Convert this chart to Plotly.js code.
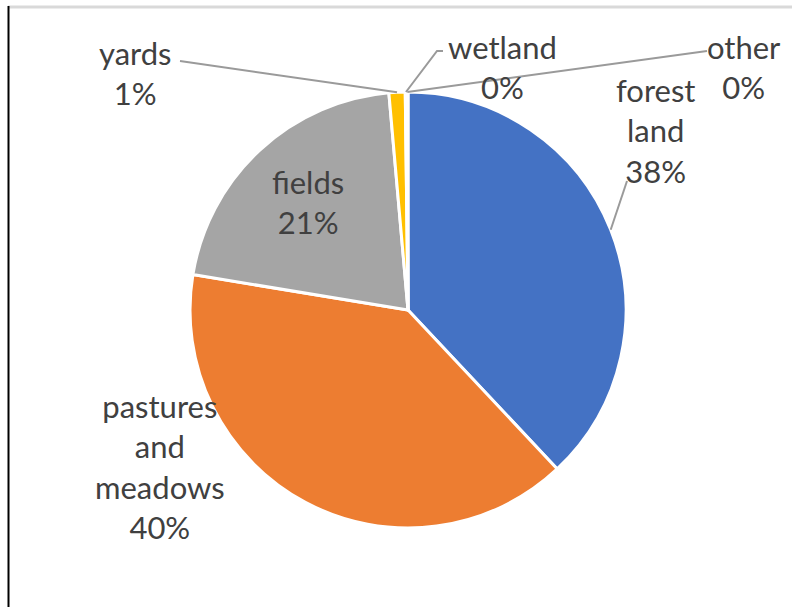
<!DOCTYPE html>
<html>
<head>
<meta charset="utf-8">
<script src="https://cdn.plot.ly/plotly-3.0.1.min.js"></script>
<style>html,body{margin:0;padding:0;background:#fff;}#chart{width:792px;height:607px;}</style>
</head>
<body>
<div id="chart"></div>
<script>
// ---- data ----
const categories = ["forest land", "pastures and meadows", "fields", "yards", "wetland", "other"];
const shares = [38.0, 39.6, 21.0, 1.2, 0.1, 0.1];
const percentLabels = ["38%", "40%", "21%", "1%", "0%", "0%"];
const labelLines = [["forest", "land"], ["pastures", "and", "meadows"], ["fields"], ["yards"], ["wetland"], ["other"]];
const sliceColors = ["#4472C4", "#ED7D31", "#A5A5A5", "#FFC000", "#5B9BD5", "#70AD47"];

// ---- geometry ----
const W = 792, H = 607;
const cx = 408, cy = 310, R = 218;
const dom = {x: [(cx - R) / W, (cx + R) / W], y: [(H - cy - R) / H, (H - cy + R) / H]};
const px = x => x / W, py = y => 1 - y / H;

// label placement (text block centres, pixels) and leader-line starts
const labelPos = [
  {x: 655, y: 131, lead: [[627, 181]]},
  {x: 160, y: 466, lead: null},
  {x: 308, y: 202, lead: null},
  {x: 135, y: 73, lead: [[180, 61]]},
  {x: 502, y: 67, lead: [[443, 51], [437, 51]]},
  {x: 744, y: 67, lead: [[707, 51]]}
];

const total = shares.reduce((a, b) => a + b, 0);
let cum = 0;
const annotations = [], shapes = [];
const font = {family: "Lato, 'Open Sans', sans-serif", size: 31, color: "#404040"};
shares.forEach((v, i) => {
  const mid = (cum + v / 2) / total * 2 * Math.PI;
  cum += v;
  const ex = cx + R * Math.sin(mid), ey = cy - R * Math.cos(mid);
  const lp = labelPos[i];
  annotations.push({
    xref: "paper", yref: "paper", x: px(lp.x), y: py(lp.y),
    text: labelLines[i].concat([percentLabels[i]]).join("<br>"),
    showarrow: false, font: font, align: "center", xanchor: "center", yanchor: "middle"
  });
  if (lp.lead) {
    let d = "M " + px(lp.lead[0][0]) + " " + py(lp.lead[0][1]);
    for (let k = 1; k < lp.lead.length; k++) d += " L " + px(lp.lead[k][0]) + " " + py(lp.lead[k][1]);
    d += " L " + px(ex) + " " + py(ey);
    shapes.push({type: "path", xref: "paper", yref: "paper", path: d, line: {color: "#9a9a9a", width: 2}});
  }
});

// frame
shapes.push({type: "line", xref: "paper", yref: "paper", x0: px(8), x1: 1, y0: py(7), y1: py(7), line: {color: "#d9d9d9", width: 3}});
shapes.push({type: "line", xref: "paper", yref: "paper", x0: px(8.5), x1: px(8.5), y0: py(6), y1: 0, line: {color: "#000000", width: 2}});

const trace = {
  type: "pie",
  labels: categories,
  values: shares,
  sort: false,
  direction: "clockwise",
  rotation: 0,
  textinfo: "none",
  hoverinfo: "label+percent",
  marker: {colors: sliceColors, line: {color: "#ffffff", width: 3}},
  domain: dom,
  showlegend: false
};

Plotly.newPlot("chart", [trace], {
  width: W, height: H,
  margin: {l: 0, r: 0, t: 0, b: 0},
  paper_bgcolor: "#ffffff",
  showlegend: false,
  annotations: annotations,
  shapes: shapes
}, {displayModeBar: false, staticPlot: true});
</script>
</body>
</html>
